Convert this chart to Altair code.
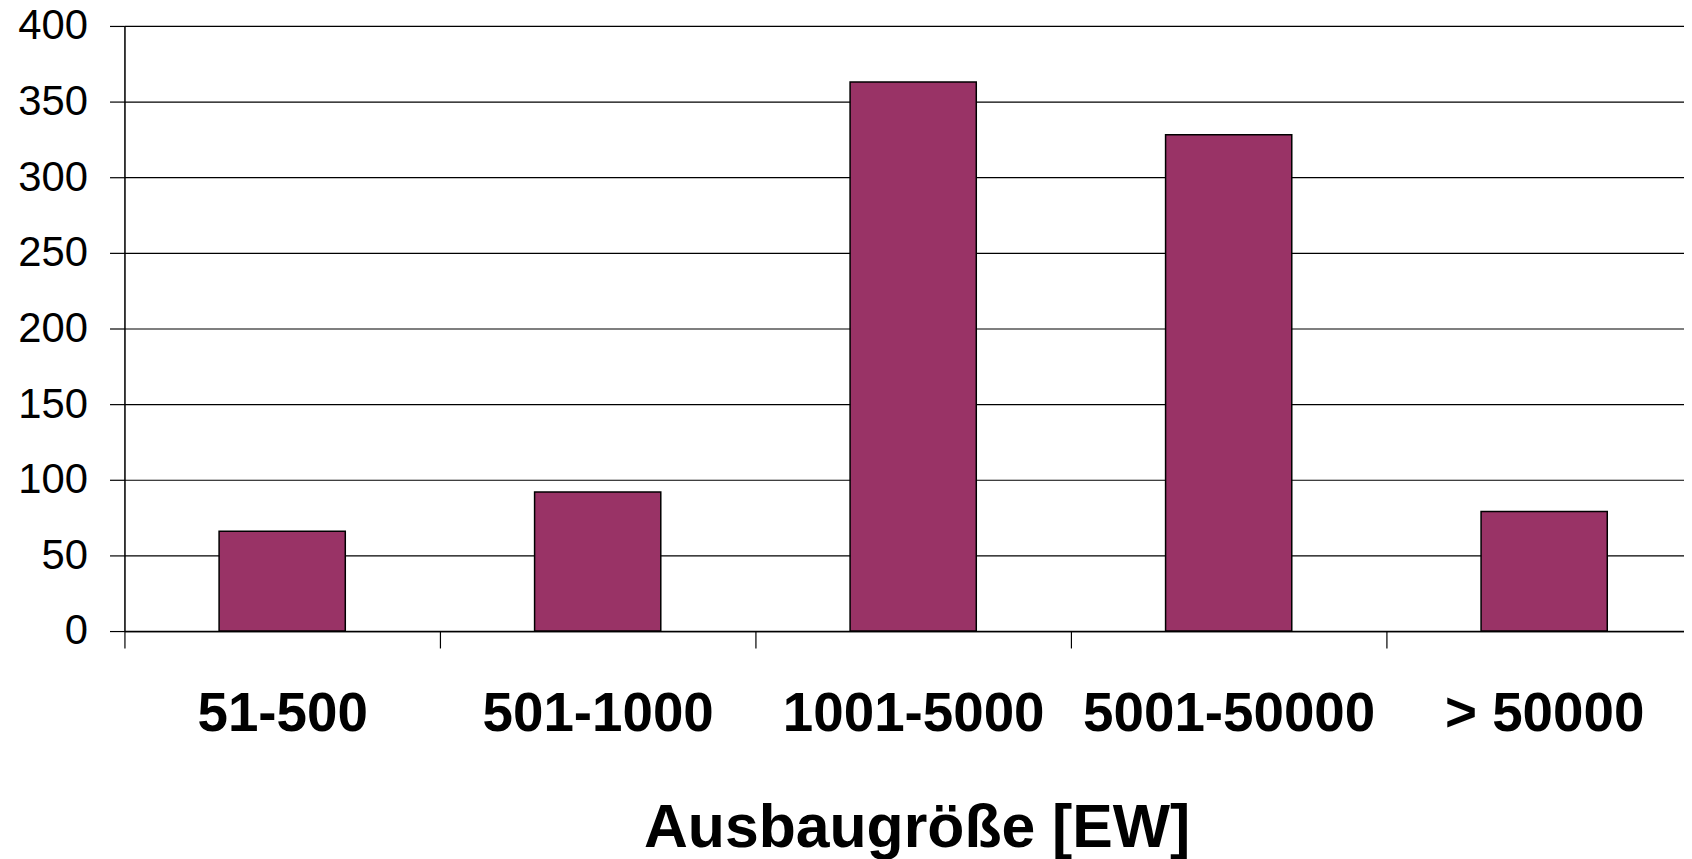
import altair as alt
import pandas as pd

categories = ["51-500", "501-1000", "1001-5000", "5001-50000", "> 50000"]
values = [66, 92, 363, 328, 79]
y_ticks = [0, 50, 100, 150, 200, 250, 300, 350, 400]

df = pd.DataFrame({"cat": categories, "val": values})

FONT = "Liberation Sans"

chart = alt.Chart(df).mark_bar(
    color="#993366", stroke="#000000", strokeWidth=1.5,
    width=alt.RelativeBandSize(0.4),
).encode(
    x=alt.X(
        "cat:N",
        sort=categories,
        scale=alt.Scale(paddingInner=0, paddingOuter=0, range=[0, 1585]),
        axis=alt.Axis(
            title="Ausbaugröße [EW]",
            titleFont=FONT, titleFontSize=61, titleFontWeight="bold",
            titleColor="#000000", titleBaseline="alphabetic", titleY=216,
            titleX=796,
            labelFont=FONT, labelFontSize=55, labelFontWeight="bold",
            labelColor="#000000", labelAngle=0, labelPadding=40, labelLimit=0,
            tickBand="extent", tickSize=17, tickColor="#000000", tickWidth=1.2,
            domainColor="#000000", domainWidth=1.5, grid=False,
        ),
    ),
    y=alt.Y(
        "val:Q",
        scale=alt.Scale(domain=[0, 400], nice=False),
        axis=alt.Axis(
            title=None, values=y_ticks,
            labelFont=FONT, labelFontSize=42, labelColor="#000000",
            labelPadding=22, tickSize=15, tickColor="#000000", tickWidth=1.2,
            domainColor="#000000", domainWidth=1.5,
            grid=True, gridColor="#000000", gridWidth=1.2,
        ),
    ),
).properties(
    width=1567,
    height=608,
    autosize=alt.AutoSizeParams(type="none"),
    padding={"left": 117, "top": 16, "right": 0, "bottom": 227},
).configure_view(stroke=None).configure(background="#ffffff")

chart.save("out.html", embed_options={"renderer": "svg", "actions": False})
